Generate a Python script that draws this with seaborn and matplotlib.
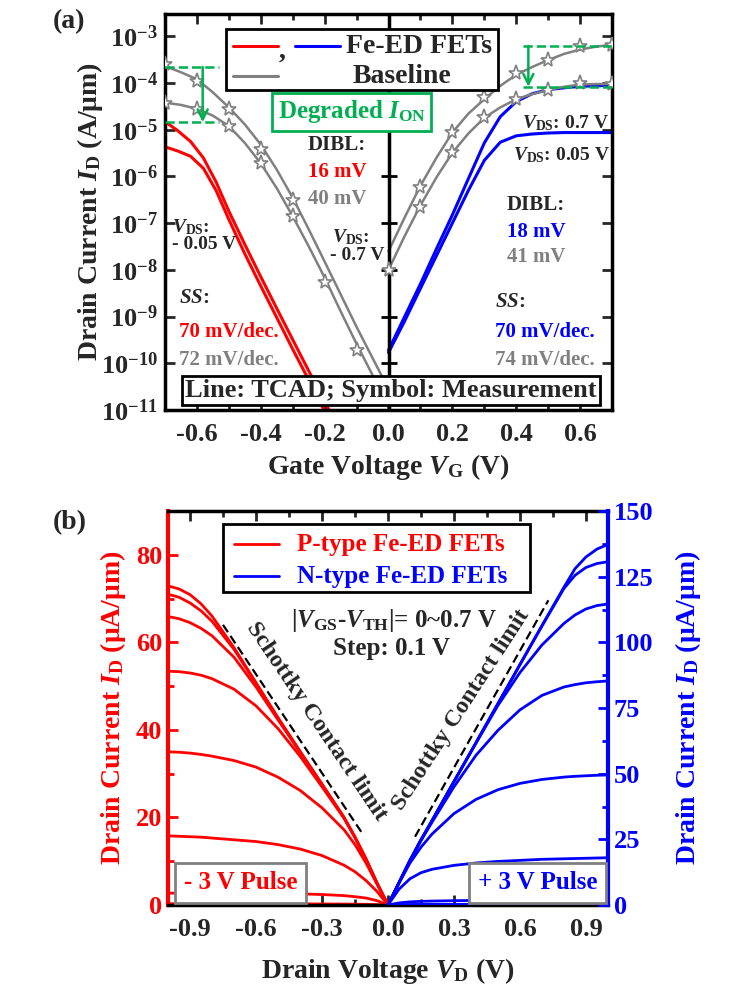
import numpy as np
import pandas as pd
import matplotlib
matplotlib.use('Agg')
import matplotlib.pyplot as plt
import seaborn as sns
from matplotlib.patches import Rectangle
from matplotlib.ticker import MultipleLocator, FuncFormatter, FormatStrFormatter, NullLocator

# ---------------- panel (a): ID-VG ----------------
# p-type Fe-ED FET (TCAD)
vg_red = [-0.70, -0.66, -0.62, -0.58, -0.54, -0.50, -0.45, -0.40, -0.35, -0.30, -0.25, -0.20, -0.17]
id_red_07 = [1.5e-5, 9.5e-6, 5.6e-6, 2.5e-6, 7.6e-7, 1.8e-7, 3.5e-8, 7.1e-9, 1.5e-9, 3.2e-10, 6.9e-11, 1.5e-11, 6.3e-12]
id_red_005 = [4.3e-6, 3.5e-6, 2.7e-6, 1.5e-6, 5.0e-7, 1.2e-7, 2.2e-8, 4.5e-9, 9.5e-10, 2.0e-10, 4.4e-11, 9.3e-12, 4.0e-12]

# p-side baseline (TCAD)
vg_gray_p = [-0.70, -0.65, -0.60, -0.55, -0.50, -0.45, -0.40, -0.35, -0.30, -0.25, -0.20, -0.15, -0.10, -0.05, 0.0]
id_gray_p_07 = [2.3e-4, 1.7e-4, 1.2e-4, 6.3e-5, 3.0e-5, 1.3e-5, 4.8e-6, 1.4e-6, 3.5e-7, 7.4e-8, 1.5e-8, 3.0e-9, 6.0e-10, 1.3e-10, 2.8e-11]
id_gray_p_005 = [3.8e-5, 3.4e-5, 2.8e-5, 2.0e-5, 1.2e-5, 5.2e-6, 1.9e-6, 5.6e-7, 1.4e-7, 3.2e-8, 6.8e-9, 1.3e-9, 2.6e-10, 5.6e-11, 1.1e-11]

# p-side baseline (measurement)
vg_meas_p_07 = [-0.7, -0.6, -0.5, -0.4, -0.3]
id_meas_p_07 = [2.5e-4, 1.1e-4, 2.8e-5, 3.8e-6, 3.2e-7]
vg_meas_p_005 = [-0.7, -0.6, -0.5, -0.4, -0.3, -0.2, -0.1]
id_meas_p_005 = [3.8e-5, 2.8e-5, 1.2e-5, 1.9e-6, 1.4e-7, 5.6e-9, 1.9e-10]

# n-side baseline (TCAD)
vg_n = [0.0, 0.05, 0.10, 0.15, 0.20, 0.25, 0.30, 0.35, 0.40, 0.45, 0.50, 0.55, 0.60, 0.65, 0.70]
id_gray_n_07 = [2.5e-8, 1.3e-7, 6.3e-7, 2.5e-6, 8.7e-6, 2.2e-5, 4.5e-5, 8.7e-5, 1.5e-4, 2.2e-4, 3.1e-4, 4.2e-4, 5.2e-4, 6.0e-4, 6.6e-4]
id_gray_n_005 = [1.0e-8, 5.2e-8, 2.4e-7, 9.5e-7, 3.2e-6, 8.3e-6, 1.8e-5, 3.0e-5, 4.5e-5, 5.8e-5, 7.1e-5, 8.3e-5, 9.3e-5, 9.5e-5, 9.5e-5]
# n-type Fe-ED FET (TCAD)
id_blue_07 = [1.9e-10, 9.8e-10, 5.0e-9, 2.8e-8, 1.5e-7, 8.9e-7, 5.2e-6, 1.9e-5, 4.0e-5, 5.9e-5, 7.2e-5, 7.9e-5, 8.5e-5, 8.7e-5, 8.9e-5]
id_blue_005 = [1.7e-10, 7.9e-10, 4.0e-9, 2.0e-8, 1.0e-7, 5.0e-7, 2.2e-6, 5.4e-6, 7.4e-6, 8.1e-6, 8.5e-6, 8.7e-6, 8.7e-6, 8.7e-6, 8.7e-6]

# n-side baseline (measurement)
vg_meas_n_07 = [0.1, 0.2, 0.3, 0.4, 0.5, 0.6, 0.7]
id_meas_n_07 = [5.9e-7, 9.1e-6, 5.0e-5, 1.6e-4, 3.1e-4, 6.2e-4, 6.6e-4]
vg_meas_n_005 = [0.0, 0.1, 0.2, 0.3, 0.4, 0.5, 0.6, 0.7]
id_meas_n_005 = [1.0e-8, 2.2e-7, 3.4e-6, 1.9e-5, 4.5e-5, 7.1e-5, 1.0e-4, 9.5e-5]

# degraded I_ON markers: (x of arrow, dashed x-span, top, bottom)
ion_left = (-0.582, [-0.70, -0.53], 2.2e-4, 1.45e-5)
ion_right = (0.438, [0.42, 0.70], 6.2e-4, 8.3e-5)

decades = [1e-11, 1e-10, 1e-9, 1e-8, 1e-7, 1e-6, 1e-5, 1e-4, 1e-3]

# ---------------- panel (b): ID-VD ----------------
vd_p = [-1.0, -0.95, -0.9, -0.85, -0.8, -0.7, -0.6, -0.5, -0.4, -0.3, -0.2, -0.15, -0.1, -0.05, 0.0]
id_p_curves = [
    [72.9, 72.2, 70.9, 68.8, 66.0, 58.8, 50.8, 42.8, 35.1, 27.6, 20.0, 15.5, 10.5, 5.0, 0.0],
    [71.0, 70.3, 69.0, 67.2, 64.8, 58.4, 50.6, 42.7, 35.1, 27.6, 20.0, 15.5, 10.5, 5.0, 0.0],
    [65.9, 65.4, 64.5, 63.2, 61.5, 56.6, 49.8, 42.3, 34.9, 27.5, 20.0, 15.5, 10.5, 5.0, 0.0],
    [53.4, 53.3, 53.0, 52.5, 51.7, 49.3, 45.5, 40.3, 34.0, 27.0, 19.8, 15.4, 10.4, 5.0, 0.0],
    [35.0, 34.9, 34.7, 34.4, 34.0, 33.0, 31.5, 29.2, 26.2, 22.2, 17.2, 13.8, 9.6, 4.8, 0.0],
    [15.8, 15.7, 15.6, 15.5, 15.3, 14.9, 14.5, 13.8, 12.8, 11.3, 9.1, 7.6, 5.6, 3.1, 0.0],
    [2.70, 2.70, 2.70, 2.68, 2.67, 2.66, 2.65, 2.60, 2.55, 2.40, 2.15, 1.90, 1.60, 1.00, 0.0],
    [0.30, 0.30, 0.30, 0.30, 0.30, 0.29, 0.29, 0.28, 0.26, 0.24, 0.22, 0.19, 0.16, 0.10, 0.0],
]
vd_n = [0.0, 0.05, 0.1, 0.15, 0.2, 0.3, 0.4, 0.5, 0.6, 0.7, 0.8, 0.85, 0.9, 0.95, 1.0]
id_n_curves = [
    [0.0, 8.5, 17.0, 24.8, 32.1, 47.0, 61.8, 76.7, 91.6, 106.4, 121.0, 128.0, 132.5, 135.5, 137.3],
    [0.0, 8.5, 17.0, 24.8, 32.1, 47.0, 61.8, 76.7, 91.5, 106.2, 120.5, 125.5, 128.5, 130.0, 130.7],
    [0.0, 8.5, 17.0, 24.8, 32.1, 47.0, 61.6, 76.0, 88.5, 99.0, 107.2, 110.4, 112.7, 114.0, 114.6],
    [0.0, 8.5, 16.9, 24.5, 31.5, 45.0, 57.0, 66.5, 74.3, 79.8, 83.0, 83.9, 84.6, 85.0, 85.3],
    [0.0, 8.3, 16.0, 22.0, 27.0, 34.8, 40.2, 43.9, 46.3, 47.8, 48.7, 49.0, 49.2, 49.4, 49.5],
    [0.0, 6.0, 10.0, 12.3, 13.6, 15.1, 16.0, 16.6, 17.0, 17.4, 17.6, 17.7, 17.8, 17.9, 18.0],
    [0.0, 0.8, 1.2, 1.4, 1.5, 1.65, 1.75, 1.85, 1.95, 2.0, 2.1, 2.12, 2.15, 2.18, 2.2],
    [0.0, 0.15, 0.2, 0.22, 0.24, 0.26, 0.27, 0.28, 0.29, 0.3, 0.3, 0.3, 0.3, 0.3, 0.3],
]
schottky_p = ([-0.75, -0.112], [64, 16])
schottky_n = ([0.123, 0.729], [26, 116])

# ---------------- style ----------------
sns.set_theme(style='ticks')
plt.rcParams['font.family'] = ['Liberation Serif', 'DejaVu Serif']
plt.rcParams.update({
    'font.weight': 'bold',
    'axes.labelweight': 'bold',
    'axes.unicode_minus': False,
    'mathtext.fontset': 'custom',
    'mathtext.rm': 'Liberation Serif:bold',
    'mathtext.bf': 'Liberation Serif:bold',
    'mathtext.it': 'Liberation Serif:italic:bold',
    'mathtext.default': 'rm',
})

RED = '#ff0000'
BLUE = '#0000ff'
GRAY = '#808080'
GREEN = '#00b050'
TICK_FS = 19
LAB_FS = 20
ANN_FS = 15

fig = plt.figure(figsize=(7.49, 9.93), dpi=100)
ax1 = fig.add_axes([0.2203, 0.5871, 0.5968, 0.3988])
ax2 = fig.add_axes([0.2243, 0.0886, 0.5874, 0.3968])
ax2r = ax2.twinx()

# ================= panel (a) =================
ax1.set_yscale('log')
line_kw = dict(estimator=None, sort=False, legend=False)
sns.lineplot(x=vg_red, y=id_red_07, ax=ax1, color=RED, lw=2.2, **line_kw)
sns.lineplot(x=vg_red, y=id_red_005, ax=ax1, color=RED, lw=2.2, **line_kw)
sns.lineplot(x=vg_n, y=id_blue_07, ax=ax1, color=BLUE, lw=2.2, **line_kw)
sns.lineplot(x=vg_n, y=id_blue_005, ax=ax1, color=BLUE, lw=2.2, **line_kw)
for xs, ys in [(vg_gray_p, id_gray_p_07), (vg_gray_p, id_gray_p_005),
               (vg_n, id_gray_n_07), (vg_n, id_gray_n_005)]:
    sns.lineplot(x=xs, y=ys, ax=ax1, color=GRAY, lw=1.8, **line_kw)
for xs, ys in [(vg_meas_p_07, id_meas_p_07), (vg_meas_p_005, id_meas_p_005),
               (vg_meas_n_07, id_meas_n_07), (vg_meas_n_005, id_meas_n_005)]:
    ax1.plot(xs, ys, ls='none', marker='*', ms=11, mfc='white', mec=GRAY, mew=1.2, zorder=4)

# centre axis line with decade ticks
ax1.axvline(0, color='black', lw=2.5, zorder=3)
ax1.plot(np.zeros(len(decades)), decades, ls='none', marker='_', ms=11, mew=2, color='black', zorder=3)

# degraded I_ON annotations
for xa, xspan, ytop, ybot in [ion_left, ion_right]:
    ax1.plot(xspan, [ytop, ytop], ls='--', color=GREEN, lw=1.8, zorder=5)
    ax1.plot(xspan, [ybot, ybot], ls='--', color=GREEN, lw=1.8, zorder=5)
    ax1.annotate('', xy=(xa, ybot), xytext=(xa, ytop),
                 arrowprops=dict(arrowstyle='->', color=GREEN, lw=1.8, mutation_scale=18,
                                 shrinkA=0, shrinkB=0), zorder=5)

ax1.set_xlim(-0.7, 0.7)
ax1.set_ylim(1e-11, 3.0e-3)
ax1.set_yticks(decades)
ax1.yaxis.set_minor_locator(NullLocator())
ax1.yaxis.set_major_formatter(FuncFormatter(lambda v, p: r'$10^{%d}$' % round(np.log10(v))))
ax1.xaxis.set_major_locator(MultipleLocator(0.2))
ax1.xaxis.set_minor_locator(MultipleLocator(0.1))
ax1.xaxis.set_major_formatter(FormatStrFormatter('%.1f'))
ax1.tick_params(which='both', direction='in', top=True, right=True, width=2, labelsize=TICK_FS)
ax1.tick_params(which='major', length=7)
ax1.tick_params(which='minor', length=4)
ax1.tick_params(axis='x', pad=9)
ax1.tick_params(axis='y', pad=5)
for s in ax1.spines.values():
    s.set_linewidth(2.5)
    s.set_color('black')
ax1.set_xlabel(r'Gate Voltage $\mathit{V}_{\mathrm{G}}$ (V)', fontsize=LAB_FS)
ax1.set_ylabel(r'Drain Current $\mathit{I}_{\mathrm{D}}$ (A/μm)', fontsize=LAB_FS)
ax1.xaxis.set_label_coords(0.5, -0.105)
ax1.yaxis.set_label_coords(-0.135, 0.5)

T = ax1.transAxes
# legend box
ax1.add_patch(Rectangle((0.136, 0.808), 0.609, 0.154, transform=T, fc='white', ec='black', lw=2, zorder=6))
ax1.plot([0.152, 0.253], [0.919, 0.919], transform=T, color=RED, lw=2.2, zorder=7)
ax1.text(0.262, 0.905, ',', transform=T, fontsize=20, ha='center', va='center', zorder=7)
ax1.plot([0.291, 0.392], [0.919, 0.919], transform=T, color=BLUE, lw=2.2, zorder=7)
ax1.plot([0.152, 0.253], [0.843, 0.843], transform=T, color=GRAY, lw=2.2, zorder=7)
ax1.text(0.405, 0.919, 'Fe-ED FETs', transform=T, fontsize=20, va='center', zorder=7)
ax1.text(0.420, 0.843, 'Baseline', transform=T, fontsize=20, va='center', zorder=7)

ax1.text(0.418, 0.753, r'Degraded $\mathit{I}_{\mathrm{ON}}$', transform=T, fontsize=18, color=GREEN,
         ha='center', va='center', zorder=7,
         bbox=dict(boxstyle='square,pad=0.22', fc='white', ec=GREEN, lw=2))

ax1.text(0.385, 0.669, 'DIBL:', transform=T, fontsize=ANN_FS, ha='center', va='center')
ax1.text(0.385, 0.601, '16 mV', transform=T, fontsize=ANN_FS, ha='center', va='center', color=RED)
ax1.text(0.385, 0.533, '40 mV', transform=T, fontsize=ANN_FS, ha='center', va='center', color=GRAY)
ax1.text(0.830, 0.518, 'DIBL:', transform=T, fontsize=ANN_FS, ha='center', va='center')
ax1.text(0.830, 0.449, '18 mV', transform=T, fontsize=ANN_FS, ha='center', va='center', color=BLUE)
ax1.text(0.830, 0.386, '41 mV', transform=T, fontsize=ANN_FS, ha='center', va='center', color=GRAY)

ax1.text(0.031, 0.283, r'$\mathit{SS}$:', transform=T, fontsize=ANN_FS, va='center')
ax1.text(0.031, 0.197, '70 mV/dec.', transform=T, fontsize=ANN_FS, va='center', color=RED)
ax1.text(0.031, 0.126, '72 mV/dec.', transform=T, fontsize=ANN_FS, va='center', color=GRAY)
ax1.text(0.738, 0.273, r'$\mathit{SS}$:', transform=T, fontsize=ANN_FS, va='center')
ax1.text(0.738, 0.197, '70 mV/dec.', transform=T, fontsize=ANN_FS, va='center', color=BLUE)
ax1.text(0.738, 0.126, '74 mV/dec.', transform=T, fontsize=ANN_FS, va='center', color=GRAY)

VDS = r'$\mathit{V}_{\mathrm{DS}}$:'
ax1.text(0.016, 0.462, VDS, transform=T, fontsize=14, va='center')
ax1.text(0.016, 0.417, '- 0.05 V', transform=T, fontsize=14, va='center')
ax1.text(0.374, 0.437, VDS, transform=T, fontsize=14, va='center')
ax1.text(0.369, 0.391, '- 0.7 V', transform=T, fontsize=14, va='center')
ax1.text(0.995, 0.725, VDS + ' 0.7 V', transform=T, fontsize=14, va='center', ha='right')
ax1.text(0.995, 0.644, VDS + ' 0.05 V', transform=T, fontsize=14, va='center', ha='right')

ax1.text(0.506, 0.049, 'Line: TCAD; Symbol: Measurement', transform=T, fontsize=19,
         ha='center', va='center', zorder=8,
         bbox=dict(boxstyle='square,pad=0.12', fc='white', ec='black', lw=2))

# ================= panel (b) =================
for ys in id_p_curves:
    sns.lineplot(x=vd_p, y=ys, ax=ax2, color=RED, lw=2, **line_kw)
for ys in id_n_curves:
    sns.lineplot(x=vd_n, y=ys, ax=ax2r, color=BLUE, lw=2, **line_kw)
ax2.plot(*schottky_p, ls='--', color='black', lw=1.6, dashes=(4, 2))
ax2r.plot(*schottky_n, ls='--', color='black', lw=1.6, dashes=(4, 2))

ax2.set_xlim(-1, 1)
ax2.set_ylim(0, 90)
ax2r.set_ylim(0, 150)
ax2.xaxis.set_major_locator(MultipleLocator(0.3))
ax2.xaxis.set_minor_locator(MultipleLocator(0.15))
ax2.xaxis.set_major_formatter(FormatStrFormatter('%.1f'))
ax2.yaxis.set_major_locator(MultipleLocator(20))
ax2.yaxis.set_minor_locator(MultipleLocator(10))
ax2r.yaxis.set_major_locator(MultipleLocator(25))
ax2r.yaxis.set_minor_locator(MultipleLocator(12.5))

ax2.tick_params(which='both', direction='in', top=True, width=2, labelsize=TICK_FS)
ax2.tick_params(axis='x', pad=9)
ax2.tick_params(axis='y', colors=RED, which='both', pad=4)
ax2r.tick_params(which='both', direction='in', width=2, labelsize=TICK_FS, colors=BLUE, pad=4)
for a in (ax2, ax2r):
    a.tick_params(which='major', length=7)
    a.tick_params(which='minor', length=4)

for s in ('top', 'bottom'):
    ax2.spines[s].set_linewidth(2.5)
    ax2.spines[s].set_color('black')
    ax2r.spines[s].set_visible(False)
ax2.spines['left'].set_linewidth(3)
ax2.spines['left'].set_color(RED)
ax2.spines['right'].set_visible(False)
ax2r.spines['right'].set_linewidth(3)
ax2r.spines['right'].set_color(BLUE)
ax2r.spines['left'].set_visible(False)

ax2.set_xlabel(r'Drain Voltage $\mathit{V}_{\mathrm{D}}$ (V)', fontsize=LAB_FS)
ax2.set_ylabel(r'Drain Current $\mathit{I}_{\mathrm{D}}$ (μA/μm)', fontsize=LAB_FS, color=RED)
ax2r.set_ylabel(r'Drain Current $\mathit{I}_{\mathrm{D}}$ (μA/μm)', fontsize=LAB_FS, color=BLUE)
ax2.xaxis.set_label_coords(0.5, -0.13)
ax2.yaxis.set_label_coords(-0.091, 0.5)
ax2r.yaxis.set_label_coords(1.148, 0.5)

B = ax2.transAxes
ax2.add_patch(Rectangle((0.124, 0.794), 0.699, 0.172, transform=B, fc='white', ec='black', lw=2, zorder=6))
ax2.plot([0.15, 0.252], [0.916, 0.916], transform=B, color=RED, lw=2, zorder=7)
ax2.plot([0.15, 0.252], [0.834, 0.834], transform=B, color=BLUE, lw=2, zorder=7)
ax2.text(0.293, 0.916, 'P-type Fe-ED FETs', transform=B, fontsize=18, color=RED, va='center', zorder=7)
ax2.text(0.293, 0.834, 'N-type Fe-ED FETs', transform=B, fontsize=18, color=BLUE, va='center', zorder=7)

ax2.text(0.5125, 0.723, r'|$\mathit{V}_{\mathrm{GS}}$-$\mathit{V}_{\mathrm{TH}}$|= 0~0.7 V', transform=B,
         fontsize=18, ha='center', va='center')
ax2.text(0.508, 0.652, 'Step: 0.1 V', transform=B, fontsize=18, ha='center', va='center')
ax2.text(0.338, 0.466, 'Schottky Contact limit', transform=B, fontsize=17.5, ha='center', va='center',
         rotation=-56, rotation_mode='anchor')
ax2.text(0.666, 0.494, 'Schottky Contact limit', transform=B, fontsize=17.5, ha='center', va='center',
         rotation=57, rotation_mode='anchor')

ax2.text(0.165, 0.056, '- 3 V Pulse', transform=B, fontsize=18, color=RED, ha='center', va='center', zorder=8,
         bbox=dict(boxstyle='square,pad=0.35', fc='white', ec=GRAY, lw=2))
ax2r.text(0.84, 0.056, '+ 3 V Pulse', transform=ax2r.transAxes, fontsize=18, color=BLUE, ha='center',
          va='center', zorder=8, bbox=dict(boxstyle='square,pad=0.35', fc='white', ec=GRAY, lw=2))

fig.text(0.071, 0.978, '(a)', fontsize=20, va='center')
fig.text(0.071, 0.474, '(b)', fontsize=20, va='center')

fig.savefig('out.png', dpi=100)
